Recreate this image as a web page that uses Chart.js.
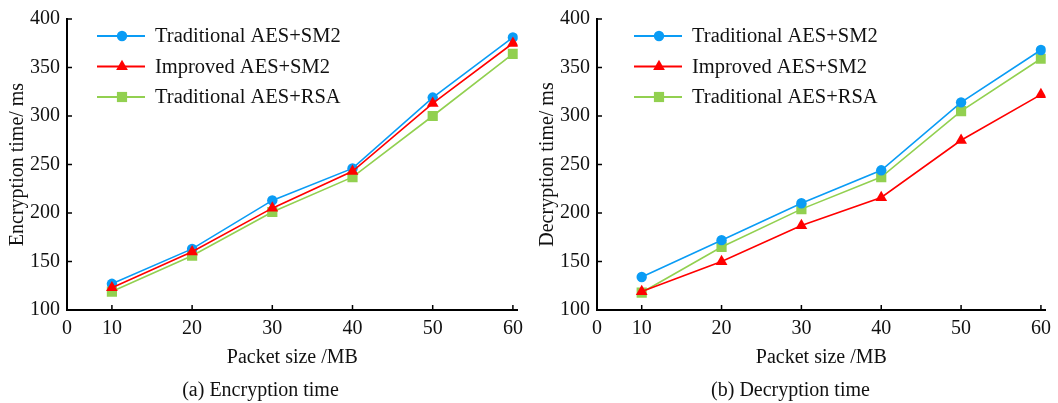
<!DOCTYPE html>
<html>
<head>
<meta charset="utf-8">
<script src="https://cdn.jsdelivr.net/npm/chart.js@4/dist/chart.umd.min.js"></script>
<style>
  html, body { margin: 0; padding: 0; background: #fff; }
  #wrap { display: flex; width: 1058px; height: 403px; }
  #boxA { width: 530px; height: 403px; position: relative; }
  #boxB { width: 528px; height: 403px; position: relative; }
</style>
</head>
<body>
<div id="wrap">
  <div id="boxA"><canvas id="chartA"></canvas></div>
  <div id="boxB"><canvas id="chartB"></canvas></div>
</div>
<script>
// packet sizes (MB)
const packetSizes = [10, 20, 30, 40, 50, 60];
const seriesNames = ['Traditional AES+SM2', 'Improved AES+SM2', 'Traditional AES+RSA'];

// encryption time (ms)
const encTradSM2 = [127, 163, 213, 246, 319, 381];
const encImpSM2  = [123, 160, 205, 243, 313, 375];
const encTradRSA = [119, 156, 201, 237, 300, 364];

// decryption time (ms)
const decTradSM2 = [134, 172, 210, 244, 314, 368];
const decImpSM2  = [119, 150, 187, 216, 275, 322];
const decTradRSA = [118, 165, 204, 237, 305, 359];

const yTicks = [100, 150, 200, 250, 300, 350, 400];
const X_MIN = 4.4, X_MAX = 60.6;

const FONT = { family: '"Liberation Serif", "Times New Roman", serif', size: 20 };

Chart.defaults.font.family = FONT.family;
Chart.defaults.color = '#111';

// legend drawn as line + marker, like the original
const lineLegend = {
  id: 'lineLegend',
  afterDatasetsDraw(chart, args, opts) {
    const ctx = chart.ctx;
    const area = chart.chartArea;
    ctx.save();
    chart.data.datasets.forEach((ds, i) => {
      const y = area.top + opts.top + i * opts.gap;
      const x0 = area.left + opts.left;
      ctx.strokeStyle = ds.borderColor;
      ctx.lineWidth = 2;
      ctx.beginPath();
      ctx.moveTo(x0, y);
      ctx.lineTo(x0 + 48, y);
      ctx.stroke();
      ctx.fillStyle = ds.backgroundColor;
      Chart.helpers.drawPoint(ctx, { pointStyle: ds.pointStyle, radius: ds.pointRadius, borderWidth: 0 }, x0 + 25, y);
      ctx.fillStyle = '#111';
      ctx.font = '20.5px ' + FONT.family;
      ctx.textBaseline = 'middle';
      ctx.fillText(ds.label, x0 + opts.textOffset, y + 1);
    });
    ctx.restore();
  }
};

// small tick marks pointing into the plot
const innerTicks = {
  id: 'innerTicks',
  afterDraw(chart) {
    const ctx = chart.ctx;
    const xs = chart.scales.x, ys = chart.scales.y;
    ctx.save();
    ctx.strokeStyle = '#000';
    ctx.lineWidth = 1.5;
    ctx.beginPath();
    ys.ticks.forEach(t => {
      const py = ys.getPixelForValue(t.value);
      ctx.moveTo(ys.right, py);
      ctx.lineTo(ys.right + 5, py);
    });
    xs.ticks.forEach(t => {
      if (t.value === X_MIN) return;
      const px = xs.getPixelForValue(t.value);
      ctx.moveTo(px, xs.top);
      ctx.lineTo(px, xs.top - 5);
    });
    ctx.stroke();
    ctx.restore();
  }
};

function makeChart(id, yTitle, caption, s1, s2, s3, legendLeft, padRight) {
  const mk = (label, data, color, style, r, order) => ({
    label, data: packetSizes.map((x, i) => ({ x, y: data[i] })),
    borderColor: color, backgroundColor: color, borderWidth: 1.6,
    pointStyle: style, pointRadius: r, pointHoverRadius: r, pointBorderWidth: 0,
    tension: 0, order
  });
  return new Chart(document.getElementById(id), {
    type: 'line',
    data: {
      datasets: [
        mk(seriesNames[0], s1, '#0a9cf5', 'circle', 5.2, 1),
        mk(seriesNames[1], s2, '#ff0000', 'triangle', 6.8, 0),
        mk(seriesNames[2], s3, '#92d050', 'rect', 7.2, 2)
      ]
    },
    options: {
      responsive: true,
      maintainAspectRatio: false,
      animation: false,
      layout: { padding: { top: 17, right: padRight, left: 0, bottom: 0 } },
      plugins: {
        legend: { display: false },
        tooltip: { enabled: false },
        title: {
          display: true, position: 'bottom', text: caption,
          font: { size: FONT.size, weight: 'normal' }, color: '#111',
          padding: { top: 4, bottom: 0 }
        },
        lineLegend: { left: legendLeft, top: 17, gap: 30.5, textOffset: 58 }
      },
      scales: {
        x: {
          type: 'linear', min: X_MIN, max: X_MAX,
          afterBuildTicks: s => { s.ticks = [X_MIN].concat(packetSizes).map(v => ({ value: v })); },
          afterFit: s => { s.height = 65; },
          ticks: {
            font: { size: FONT.size }, color: '#111', padding: 7, maxRotation: 0, autoSkip: false,
            callback: v => v === X_MIN ? '0' : v
          },
          grid: { display: false, drawTicks: false },
          border: { display: true, color: '#000', width: 2 },
          title: { display: true, text: 'Packet size /MB', font: { size: FONT.size }, color: '#111', padding: { top: 2, bottom: 5 } }
        },
        y: {
          min: 100, max: 400,
          afterBuildTicks: s => { s.ticks = yTicks.map(v => ({ value: v })); },
          afterFit: s => { s.width = 67; },
          ticks: { font: { size: FONT.size }, color: '#111', padding: 7 },
          grid: { display: false, drawTicks: false },
          border: { display: true, color: '#000', width: 2 },
          title: { display: true, text: yTitle, font: { size: FONT.size }, color: '#111', padding: { top: 6, bottom: 0 } }
        }
      }
    },
    plugins: [lineLegend, innerTicks]
  });
}

makeChart('chartA', 'Encryption time/ ms', '(a) Encryption time', encTradSM2, encImpSM2, encTradRSA, 30, 9);
makeChart('chartB', 'Decryption time/ ms', '(b) Decryption time', decTradSM2, decImpSM2, decTradRSA, 37, 7);
</script>
</body>
</html>
